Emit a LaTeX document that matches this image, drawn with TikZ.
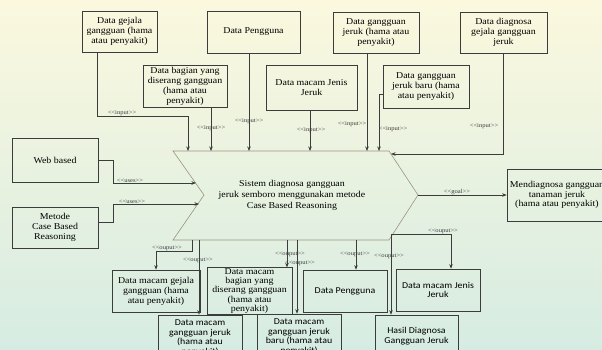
\documentclass[tikz,border=0pt]{standalone}
\usepackage{fontspec}
\setmainfont{Liberation Serif}[FakeStretch=1.1]
\newfontfamily\sansf{Carlito}[FakeStretch=1.1]
\usetikzlibrary{arrows.meta,calc}
\definecolor{bgY}{HTML}{FBF8DE}
\definecolor{bgT}{HTML}{D6ECE2}
\definecolor{ln}{HTML}{3C3C3C}
\definecolor{chev}{HTML}{9C9282}
\tikzset{
  box/.style={draw=ln, line width=0.7pt, align=center, inner sep=1pt,
    font=\fontsize{9}{10}\selectfont},
  sbox/.style={box, font=\sansf\fontsize{9}{9.5}\selectfont},
  conn/.style={draw=ln, line width=0.6pt, -{Stealth[length=4.5pt,width=3.5pt]}},
  lab/.style={font=\fontsize{6}{6.5}\selectfont, inner sep=0.5pt, text=ln},
}
\begin{document}
\begin{tikzpicture}[x=1pt,y=-1pt]
\useasboundingbox (0,0) rectangle (602,349);
\clip (0,0) rectangle (602,349);
\shade[top color=bgY, middle color=bgY, bottom color=bgT] (0,0) rectangle (602,349);

% central chevron
\draw[draw=chev, line width=0.6pt] (173,151) -- (389,151) -- (418,195) -- (389,240) -- (173,240) -- (204,195) -- cycle;
\node[align=center, font=\fontsize{9}{11}\selectfont] (S) at (292,195)
  {Sistem diagnosa gangguan\\jeruk semboro menggunakan metode\\Case Based Reasoning};
\coordinate (inA) at (188,151);
\coordinate (inE) at (211,151);
\coordinate (inB) at (249,151);
\coordinate (inF) at (310,151);
\coordinate (inC) at (367,151);
\coordinate (inG) at (379,151);
\coordinate (inD) at (391,154);
\coordinate (inH) at (196,183);
\coordinate (inI) at (199,204);
\coordinate (tip) at (418,195);
\coordinate (oK) at (192,240);
\coordinate (oO) at (199,240);
\coordinate (oL) at (287,240);
\coordinate (oP) at (297,240);
\coordinate (oM) at (356,240);
\coordinate (oN) at (391,234);

% top row
\node[box, minimum width=75pt, minimum height=41pt] (A) at (119.5,31.5) {Data gejala\\gangguan (hama\\atau penyakit)};
\node[box, minimum width=93pt, minimum height=42pt] (B) at (253.5,32) {Data Pengguna};
\node[box, minimum width=86pt, minimum height=41pt] (C) at (376,32.5) {Data gangguan\\jeruk (hama atau\\penyakit)};
\node[box, minimum width=87pt, minimum height=41pt] (D) at (503.5,32.5) {Data diagnosa\\gejala gangguan\\jeruk};
% second row
\node[box, minimum width=84pt, minimum height=42pt] (E) at (185,86) {Data bagian yang\\diserang gangguan\\(hama atau\\penyakit)};
\node[box, minimum width=91pt, minimum height=45pt] (F) at (311.5,87.5) {Data macam Jenis\\Jeruk};
\node[box, minimum width=86pt, minimum height=43pt] (G) at (426,86.5) {Data gangguan\\jeruk baru (hama\\atau penyakit)};
% left
\node[box, minimum width=86pt, minimum height=44pt] (H) at (55,160) {Web based};
\node[box, minimum width=86pt, minimum height=41pt] (I) at (55,227.5) {Metode\\Case Based\\Reasoning};
% right
\node[box, minimum width=100pt, minimum height=52pt, font=\fontsize{9}{9.5}\selectfont] (J) at (557,195) {Mendiagnosa gangguan\\tanaman jeruk\\(hama atau penyakit)};
% bottom rows
\node[box, minimum width=88pt, minimum height=42pt] (K) at (156,291) {Data macam gejala\\gangguan (hama\\atau penyakit)};
\node[box, minimum width=85pt, minimum height=42pt, font=\fontsize{9}{9.2}\selectfont] (L) at (249.5,291) {Data macam\\bagian yang\\diserang gangguan\\(hama atau\\penyakit)};
\node[sbox, minimum width=84pt, minimum height=42pt] (M) at (345,291) {Data Pengguna};
\node[sbox, minimum width=84pt, minimum height=42pt] (N) at (438,290) {Data macam Jenis\\Jeruk};
\node[sbox, minimum width=84pt, minimum height=46pt] (O) at (200,338) {Data macam\\gangguan jeruk\\(hama atau\\penyakit)};
\node[sbox, minimum width=84pt, minimum height=46pt] (P) at (299,337) {Data macam\\gangguan jeruk\\baru (hama atau\\penyakit)};
\node[sbox, minimum width=83pt, minimum height=42pt] (Q) at (416.5,336) {Hasil Diagnosa\\Gangguan Jeruk};

% inputs
\draw[conn] ([xshift=16pt]A.south west) -- ++(0,64) -| (inA);
\draw[conn] (E.south -| inE) -- (inE);
\draw[conn] (B.south -| inB) -- (inB);
\draw[conn] (F.south -| inF) -- (inF);
\draw[conn] (C.south -| inC) -- (inC);
\draw[conn] ([yshift=-7.5pt]G.west) -| (inG);
\draw[conn] (D.south) |- (inD);
\draw[conn] (H.east) -- ++(15,0) |- (inH);
\draw[conn] ([yshift=5.5pt]I.east) -- ++(15,0) |- (inI);
% goal
\draw[conn] (tip) -- (J.west);
% outputs
\draw[conn] (oK) -- ++(0,11) -| (K.north);
\draw[conn] (oO) -- (oO |- O.north);
\draw[conn] (oL) -- (oL |- L.north);
\draw[conn] (oP) -- (oP |- P.north);
\draw[conn] (oM) -- (oM |- M.north);
\draw[conn] (oN) -| ([xshift=13pt]N.north);
\draw[conn] (oN) -- (oN |- Q.north);

% stereotype labels
\node[lab] at (122,113.5) {<{}<input>{}>};
\node[lab] at (211,128) {<{}<input>{}>};
\node[lab] at (249,121) {<{}<input>{}>};
\node[lab] at (311,130) {<{}<input>{}>};
\node[lab] at (352,124) {<{}<input>{}>};
\node[lab] at (393,129) {<{}<input>{}>};
\node[lab] at (484,126) {<{}<input>{}>};
\node[lab] at (130,180.5) {<{}<uses>{}>};
\node[lab] at (132,201.5) {<{}<uses>{}>};
\node[lab] at (457,192.5) {<{}<goal>{}>};
\node[lab] at (167,248.5) {<{}<ouput>{}>};
\node[lab] at (198,260) {<{}<ouput>{}>};
\node[lab] at (290,254) {<{}<ouput>{}>};
\node[lab] at (300,263) {<{}<ouput>{}>};
\node[lab] at (355,254) {<{}<ouput>{}>};
\node[lab] at (389,256) {<{}<ouput>{}>};
\node[lab] at (443,231.5) {<{}<ouput>{}>};
\end{tikzpicture}
\end{document}
